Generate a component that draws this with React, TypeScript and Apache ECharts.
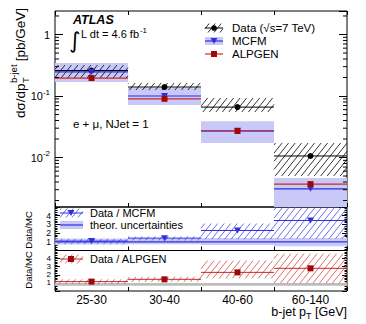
import React, { useEffect, useRef } from 'react';
import * as echarts from 'echarts';

const FONT = 'Liberation Sans';

// ---- data ----
const categories = ['25-30', '30-40', '40-60', '60-140'];
const dataVal = [0.26, 0.14, 0.066, 0.0106];
const dataLo = [0.196, 0.125, 0.055, 0.005];
const dataHi = [0.319, 0.163, 0.093, 0.0172];
const mcfmVal = [0.246, 0.1, 0.0272, 0.0031];
const mcfmLo = [0.169, 0.0715, 0.0172, 0.0012];
const mcfmHi = [0.344, 0.135, 0.039, 0.00464];
const alpgenVal = [0.196, 0.09, 0.027, 0.0037];

const ratioMcfm = [1.08, 1.42, 2.3, 3.45];
const ratioMcfmLo = [0.72, 1.15, 1.3, 1.35];
const ratioMcfmHi = [1.33, 1.62, 3.1, 5.6];
const theorLo = [0.69, 0.72, 0.63, 0.48];
const theorHi = [1.38, 1.35, 1.43, 1.45];
const theorCentral = [1, 1, 1, 1];

const ratioAlpgen = [1.16, 1.44, 2.3, 2.8];
const ratioAlpgenLo = [0.88, 1.12, 1.56, 0.96];
const ratioAlpgenHi = [1.45, 1.75, 3.76, 4.6];
const grayLo = [0.66, 0.66, 0.66, 0.66];
const grayHi = [0.98, 0.98, 0.98, 0.98];

const mainTickValues = [0.01, 0.1, 1];
const mainTickTexts = ['10{s|-2}', '10{s|-1}', '1'];
const ratioTickValues = [1, 2, 3, 4];
const minorDecades = [0.001, 0.01, 0.1, 1];
const minorMantissas = [2, 3, 4, 5, 6, 7, 8, 9];

// ---- axis ranges / layout ----
const Y_MIN = 0.00157;
const Y_MAX = 2.41;
const L = 55, R = 347, T0 = 11, B0 = 207, B1 = 250.5, B2 = 291;

const C_BAND = '#c9c9f7';
const C_BLUE = '#2f2fe0';
const C_RED = '#c82828';
const C_DARKRED = '#a00808';
const C_HATCH_BLUE = '#4a4ae6';
const C_HATCH_RED = '#d24a4a';
const C_GRAY = '#bdbdbd';

function measure(text: string, size: number, weight = 'normal', style = 'normal') {
  const ctx = document.createElement('canvas').getContext('2d')!;
  ctx.font = `${style} ${weight} ${size}px "${FONT}"`;
  return ctx.measureText(text).width;
}

const K = 1.25; // hatch slope
function hatch(x0: number, y0: number, w: number, h: number, sx: number, stroke: string, lw: number) {
  const out: any[] = [];
  if (w <= 0 || h <= 0) return out;
  const step = K * sx;
  const cMin = K * x0 + y0;
  const cMax = K * (x0 + w) + y0 + h;
  for (let c = Math.ceil(cMin / step) * step; c < cMax; c += step) {
    const xa = Math.max(x0, (c - y0 - h) / K);
    const xb = Math.min(x0 + w, (c - y0) / K);
    if (xb - xa > 0.2) {
      out.push({ type: 'line', silent: true, shape: { x1: xa, y1: c - K * xa, x2: xb, y2: c - K * xb }, style: { stroke, lineWidth: lw } });
    }
  }
  return out;
}

function binSeries(xi: number, yi: number, vals: number[], los: number[] | null, his: number[] | null,
  opts: { fill?: string; hatch?: string; line?: string; lineWidth?: number; z?: number }) {
  return {
    type: 'custom', xAxisIndex: xi, yAxisIndex: yi, silent: true, z: opts.z ?? 2,
    data: vals.map((v, i) => [i, v, los ? los[i] : v, his ? his[i] : v]),
    renderItem: (params: any, api: any) => {
      const cs = params.coordSys;
      const i = api.value(0);
      const w = api.size([1, 1])[0];
      const pc = api.coord([i, api.value(1)]);
      const x0 = pc[0] - w / 2;
      const cl = (y: number) => Math.max(cs.y, Math.min(cs.y + cs.height, y));
      const yv = pc[1];
      const yLo = cl(api.coord([i, api.value(2)])[1]);
      const yHi = cl(api.coord([i, api.value(3)])[1]);
      const children: any[] = [];
      if (opts.fill && yLo - yHi > 0) children.push({ type: 'rect', shape: { x: x0, y: yHi, width: w, height: yLo - yHi }, style: { fill: opts.fill } });
      if (opts.hatch) children.push(...hatch(x0, yHi, w, yLo - yHi, 6.5, opts.hatch, 0.8));
      if (opts.line && yv >= cs.y && yv <= cs.y + cs.height) {
        children.push({ type: 'line', shape: { x1: x0, y1: yv, x2: x0 + w, y2: yv }, style: { stroke: opts.line, lineWidth: opts.lineWidth ?? 1.2 } });
      }
      return { type: 'group', children };
    },
  };
}

function markerSeries(xi: number, yi: number, vals: number[], symbol: string, color: string, size: any, rotate = 0) {
  return {
    type: 'scatter', xAxisIndex: xi, yAxisIndex: yi, silent: true, z: 5,
    symbol, symbolSize: size, symbolRotate: rotate,
    itemStyle: { color, opacity: 1 },
    data: vals.map((v, i) => [i, v]),
  };
}

function xAxis(gridIndex: number, position: string, showLabel: boolean) {
  return {
    type: 'category', data: categories, gridIndex, position, boundaryGap: true,
    axisLine: { show: false },
    axisTick: { show: true, inside: true, length: 4, lineStyle: { color: '#000', width: 1 } },
    axisLabel: { show: showLabel, fontSize: 12, lineHeight: 10, color: '#000', fontFamily: FONT, margin: 4 },
    splitLine: { show: false },
  };
}

function ratioY(gridIndex: number, position: string, showLabel: boolean, fs: number) {
  return {
    type: 'value', gridIndex, position, min: 0, max: 5, interval: 1,
    axisLine: { show: false },
    axisTick: { show: true, inside: true, length: 5, lineStyle: { color: '#000' } },
    minorTick: { show: true, splitNumber: 5, length: 2.5, lineStyle: { color: '#000' } },
    splitLine: { show: false }, minorSplitLine: { show: false },
    axisLabel: {
      show: showLabel, fontSize: fs, lineHeight: 7, color: '#000', fontFamily: FONT, margin: 4,
      formatter: (v: number) => (ratioTickValues.indexOf(v) >= 0 ? String(v) : ''),
    },
  };
}

function mainY(position: string, showLabel: boolean) {
  return {
    type: 'log', logBase: 10, gridIndex: 0, position, min: Y_MIN, max: Y_MAX,
    axisLine: { show: false },
    axisTick: { show: true, inside: true, length: 8, lineStyle: { color: '#000' } },
    splitLine: { show: false },
    axisLabel: {
      show: showLabel, color: '#000', fontFamily: FONT, fontSize: 11, margin: 5,
      showMinLabel: false, showMaxLabel: false,
      formatter: (v: number) => {
        for (let k = 0; k < mainTickValues.length; k++) {
          if (Math.abs(Math.log10(v) - Math.log10(mainTickValues[k])) < 1e-6) return mainTickTexts[k];
        }
        return '';
      },
      rich: {
        s: { fontSize: 8, fontFamily: FONT, color: '#000', verticalAlign: 'top', lineHeight: 16 },
      },
    },
  };
}

function txt(text: string, x: number, y: number, size: number, extra: any = {}) {
  return {
    type: 'text', x, y, silent: true,
    style: {
      text, fontSize: size, fontFamily: FONT, fill: '#000',
      align: 'left', verticalAlign: 'middle', textAlign: 'left', textVerticalAlign: 'middle',
      ...extra,
    },
  };
}

function buildGraphics() {
  const g: any[] = [];
  // y-axis title (rotated)
  const tS = 13.5, sS = 9.5;
  const w1 = measure('dσ/dp', tS);
  const wSup = measure('b-jet', sS);
  const wSub = measure('T', sS);
  const gap = measure(' ', tS);
  const w3 = measure('[pb/GeV]', tS);
  const tot = w1 + Math.max(wSup, wSub) + gap + w3;
  g.push({
    type: 'group', x: 20, y: 63 + tot / 2, rotation: Math.PI / 2,
    children: [
      txt('dσ/dp', 0, 0, tS),
      txt('b-jet', w1 + 0.5, -6.5, sS),
      txt('T', w1 + 0.5, 5, sS),
      txt('[pb/GeV]', w1 + Math.max(wSup, wSub) + gap, 0, tS),
    ],
  });
  // ratio y titles
  g.push({ type: 'group', x: 28, y: 230, rotation: Math.PI / 2, children: [txt('Data/MC', 0, 0, 9.5, { align: 'center', textAlign: 'center' })] });
  g.push({ type: 'group', x: 28, y: 270, rotation: Math.PI / 2, children: [txt('Data/MC', 0, 0, 9.5, { align: 'center', textAlign: 'center' })] });

  // x title
  const xS = 12.5, xsS = 9;
  const a1 = measure('b-jet p', xS), a2 = measure('T', xsS), a3 = measure(' [GeV]', xS);
  const xStart = R - (a1 + a2 + a3);
  g.push(txt('b-jet p', xStart, 311.5, xS));
  g.push(txt('T', xStart + a1, 315.5, xsS));
  g.push(txt(' [GeV]', xStart + a1 + a2, 311.5, xS));

  // ATLAS label
  g.push(txt('ATLAS', 73, 20, 12.5, { fontWeight: 'bold', fontStyle: 'italic' }));
  g.push(txt('∫', 69, 40, 22, { fontFamily: 'DejaVu Sans' }));
  const lw = measure('L dt = 4.6 fb', 11);
  g.push(txt('L dt = 4.6 fb', 81, 34, 11));
  g.push(txt('-1', 81 + lw + 0.5, 30, 8));
  g.push(txt('e + μ, NJet = 1', 73, 124, 11.5));

  // main legend
  const sx0 = 205, sx1 = 223, scx = 214;
  g.push(...hatch(sx0, 23.5, sx1 - sx0, 9, 6, '#000', 0.8));
  g.push({ type: 'line', shape: { x1: sx0, y1: 28, x2: sx1, y2: 28 }, style: { stroke: '#000', lineWidth: 1 } });
  g.push({ type: 'circle', shape: { cx: scx, cy: 28, r: 2.8 }, style: { fill: '#000' } });
  g.push(txt('Data (√s=7 TeV)', 232, 28, 11.5));
  g.push({ type: 'rect', shape: { x: sx0, y: 37, width: sx1 - sx0, height: 8 }, style: { fill: C_BAND } });
  g.push({ type: 'line', shape: { x1: sx0, y1: 41, x2: sx1, y2: 41 }, style: { stroke: C_BLUE, lineWidth: 1.2 } });
  g.push({ type: 'polygon', shape: { points: [[scx - 3.5, 38], [scx + 3.5, 38], [scx, 44]] }, style: { fill: C_BLUE } });
  g.push(txt('MCFM', 232, 41, 11.5));
  g.push({ type: 'line', shape: { x1: sx0, y1: 54, x2: sx1, y2: 54 }, style: { stroke: C_RED, lineWidth: 1.2 } });
  g.push({ type: 'rect', shape: { x: scx - 3, y: 51, width: 6, height: 6 }, style: { fill: C_DARKRED } });
  g.push(txt('ALPGEN', 232, 54, 11.5));

  // ratio legend 1
  const rx0 = 60, rx1 = 83, rcx = 71;
  g.push(...hatch(rx0, 208.5, rx1 - rx0, 9, 6, C_HATCH_BLUE, 0.8));
  g.push({ type: 'line', shape: { x1: rx0, y1: 213, x2: rx1, y2: 213 }, style: { stroke: C_BLUE, lineWidth: 1 } });
  g.push({ type: 'polygon', shape: { points: [[rcx - 3.5, 210], [rcx + 3.5, 210], [rcx, 216]] }, style: { fill: C_BLUE } });
  g.push(txt('Data / MCFM', 90, 213, 11));
  g.push({ type: 'rect', shape: { x: rx0, y: 221, width: rx1 - rx0, height: 8 }, style: { fill: C_BAND } });
  g.push({ type: 'line', shape: { x1: rx0, y1: 225, x2: rx1, y2: 225 }, style: { stroke: C_BLUE, lineWidth: 1.2 } });
  g.push(txt('theor. uncertainties', 90, 225, 11));
  // ratio legend 2
  g.push(...hatch(rx0, 254.5, rx1 - rx0, 9, 6, C_HATCH_RED, 0.8));
  g.push({ type: 'line', shape: { x1: rx0, y1: 259, x2: rx1, y2: 259 }, style: { stroke: C_RED, lineWidth: 1 } });
  g.push({ type: 'rect', shape: { x: rcx - 3, y: 256, width: 6, height: 6 }, style: { fill: C_DARKRED } });
  g.push(txt('Data / ALPGEN', 90, 259, 11));
  return g;
}

function buildOption(): any {
  const minorTickSeries = {
    type: 'custom', xAxisIndex: 0, yAxisIndex: 0, silent: true, z: 3,
    data: [[0, 1]],
    renderItem: (params: any, api: any) => {
      const cs = params.coordSys;
      const children: any[] = [];
      minorDecades.forEach((d) => minorMantissas.forEach((m) => {
        const v = d * m;
        if (v <= Y_MIN || v >= Y_MAX) return;
        const y = api.coord([0, v])[1];
        children.push({ type: 'line', shape: { x1: cs.x, y1: y, x2: cs.x + 4, y2: y }, style: { stroke: '#000', lineWidth: 1 } });
        children.push({ type: 'line', shape: { x1: cs.x + cs.width - 4, y1: y, x2: cs.x + cs.width, y2: y }, style: { stroke: '#000', lineWidth: 1 } });
      }));
      return { type: 'group', children };
    },
  };

  return {
    animation: false,
    backgroundColor: '#fff',
    textStyle: { fontFamily: FONT },
    grid: [
      { left: L, top: T0, width: R - L, height: B0 - T0, show: true, borderColor: '#000', borderWidth: 1, backgroundColor: 'transparent', containLabel: false, outerBoundsMode: 'none' },
      { left: L, top: B0, width: R - L, height: B1 - B0, show: true, borderColor: '#000', borderWidth: 1, backgroundColor: 'transparent', containLabel: false, outerBoundsMode: 'none' },
      { left: L, top: B1, width: R - L, height: B2 - B1, show: true, borderColor: '#000', borderWidth: 1, backgroundColor: 'transparent', containLabel: false, outerBoundsMode: 'none' },
    ],
    xAxis: [
      xAxis(0, 'bottom', false),
      xAxis(0, 'top', false),
      xAxis(1, 'bottom', false),
      xAxis(2, 'bottom', true),
    ],
    yAxis: [
      mainY('left', true),
      mainY('right', false),
      ratioY(1, 'left', true, 8.5),
      ratioY(1, 'right', false, 8.5),
      ratioY(2, 'left', true, 8),
      ratioY(2, 'right', false, 8),
    ],
    series: [
      // main panel
      binSeries(0, 0, mcfmVal, mcfmLo, mcfmHi, { fill: C_BAND, z: 1 }),
      binSeries(0, 0, dataVal, dataLo, dataHi, { hatch: '#000', line: '#000', lineWidth: 1 }),
      binSeries(0, 0, mcfmVal, null, null, { line: C_BLUE }),
      binSeries(0, 0, alpgenVal, null, null, { line: C_RED }),
      markerSeries(0, 0, dataVal, 'circle', '#000', 6),
      markerSeries(0, 0, mcfmVal, 'triangle', C_BLUE, [7, 6], 180),
      markerSeries(0, 0, alpgenVal, 'rect', C_DARKRED, 6),
      minorTickSeries,
      // ratio 1
      binSeries(2, 2, theorCentral, theorLo, theorHi, { fill: C_BAND, line: C_BLUE, z: 1 }),
      binSeries(2, 2, ratioMcfm, ratioMcfmLo, ratioMcfmHi, { hatch: C_HATCH_BLUE, line: C_BLUE, lineWidth: 1 }),
      markerSeries(2, 2, ratioMcfm, 'triangle', C_BLUE, [7, 6], 180),
      // ratio 2
      binSeries(3, 4, theorCentral, grayLo, grayHi, { fill: C_GRAY, z: 1 }),
      binSeries(3, 4, ratioAlpgen, ratioAlpgenLo, ratioAlpgenHi, { hatch: C_HATCH_RED, line: C_RED, lineWidth: 1 }),
      markerSeries(3, 4, ratioAlpgen, 'rect', C_DARKRED, 6),
    ],
    graphic: buildGraphics(),
  };
}

export default function App() {
  const ref = useRef<HTMLDivElement>(null);
  useEffect(() => {
    const chart = echarts.init(ref.current!, null, { renderer: 'svg' });
    chart.setOption(buildOption());
    return () => chart.dispose();
  }, []);
  return <div ref={ref} style={{ position: 'absolute', left: 0, top: 0, width: 366, height: 324 }} />;
}
